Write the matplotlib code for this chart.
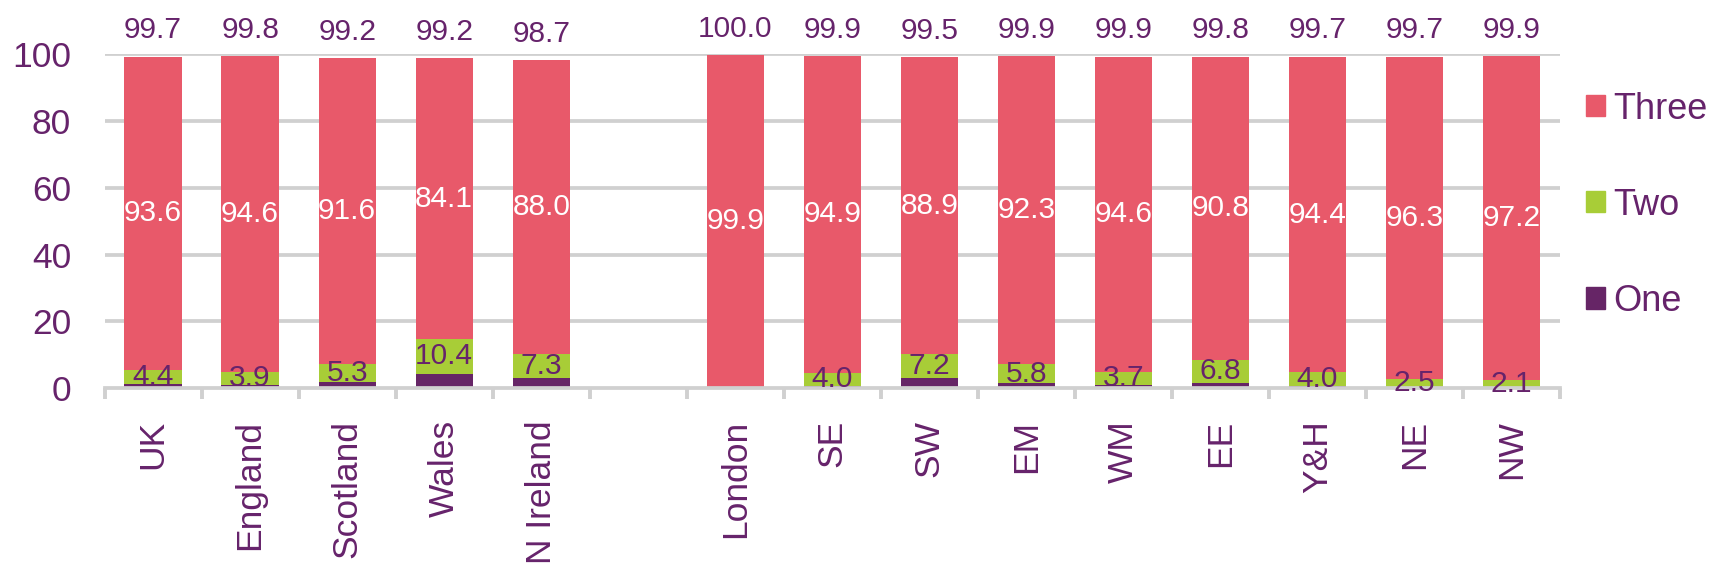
import matplotlib
matplotlib.use("Agg")
import matplotlib.pyplot as plt
from matplotlib.patches import Patch
import numpy as np

plt.rcParams['font.family'] = ['Liberation Sans', 'DejaVu Sans']

categories = ["UK", "England", "Scotland", "Wales", "N Ireland", "",
              "London", "SE", "SW", "EM", "WM", "EE", "Y&H", "NE", "NW"]
one = [1.1, 0.9, 1.9, 4.3, 3.0, 0, 0.0, 0.6, 3.0, 1.4, 1.0, 1.6, 0.7, 0.3, 0.2]
two = [4.4, 3.9, 5.3, 10.4, 7.3, 0, 0.0, 4.0, 7.2, 5.8, 3.7, 6.8, 4.0, 2.5, 2.1]
three = [93.6, 94.6, 91.6, 84.1, 88.0, 0, 99.9, 94.9, 88.9, 92.3, 94.6, 90.8, 94.4, 96.3, 97.2]
totals = [99.7, 99.8, 99.2, 99.2, 98.7, None, 100.0, 99.9, 99.5, 99.9, 99.9, 99.8, 99.7, 99.7, 99.9]

c_one = "#662566"
c_two = "#a8cd37"
c_three = "#e8596a"
c_text = "#66236b"
c_grid = "#d0d0d0"

fig = plt.figure(figsize=(17.11, 5.73), dpi=100)
ax = fig.add_axes([0.0611, 0.3229, 0.8507, 0.5823])

x = np.arange(len(categories))
w = 0.59
one_a = np.array(one)
two_a = np.array(two)
three_a = np.array(three)
ax.bar(x, one_a, w, color=c_one, zorder=2)
ax.bar(x, two_a, w, bottom=one_a, color=c_two, zorder=2)
ax.bar(x, three_a, w, bottom=one_a + two_a, color=c_three, zorder=2)

for i in range(len(categories)):
    if categories[i] == "":
        continue
    if two[i] > 0:
        ax.text(x[i], one[i] + two[i] / 2, f"{two[i]:.1f}", ha="center", va="center",
                color=c_text, fontsize=21.5, zorder=4)
    if three[i] > 0:
        ax.text(x[i], one[i] + two[i] + three[i] / 2, f"{three[i]:.1f}", ha="center",
                va="center", color="white", fontsize=21.5, zorder=4)
    ax.annotate(f"{totals[i]:.1f}", (x[i], totals[i]), xytext=(0, 18),
                textcoords="offset points", ha="center", va="center",
                color=c_text, fontsize=21.5, annotation_clip=False)

ax.set_xlim(-0.5, 14.5)
ax.set_ylim(0, 100)
ax.set_yticks([20, 40, 60, 80, 100])
ax.set_yticks([0], minor=True)
ax.yaxis.grid(True, which="major", color=c_grid, linewidth=2.7, zorder=0)
ax.set_axisbelow(True)
for s in ["top", "right", "left"]:
    ax.spines[s].set_visible(False)
ax.spines["bottom"].set_color(c_grid)
ax.spines["bottom"].set_linewidth(2.7)
ax.spines["bottom"].set_zorder(3)
ax.tick_params(axis="y", which="both", length=0, labelsize=25.5, labelcolor=c_text, pad=24)
ax.set_yticklabels(["0"], minor=True)
ax.set_xticks(x)
ax.set_xticklabels(categories, rotation=90, fontsize=25.5, color=c_text)
ax.tick_params(axis="x", which="major", length=0, pad=23)
ax.set_xticks(np.arange(-0.5, 15, 1.0), minor=True)
ax.tick_params(axis="x", which="minor", length=8, width=2.8, color=c_grid, direction="out")

handles = [Patch(color=c_three), Patch(color=c_two), Patch(color=c_one)]
fig.legend(handles, ["Three", "Two", "One"], loc="center left",
           bbox_to_anchor=(0.908, 0.642), frameon=False, fontsize=26,
           labelcolor=c_text, handlelength=0.53, handleheight=0.53,
           handletextpad=0.22, labelspacing=1.69)

fig.savefig("out.png", dpi=100)
